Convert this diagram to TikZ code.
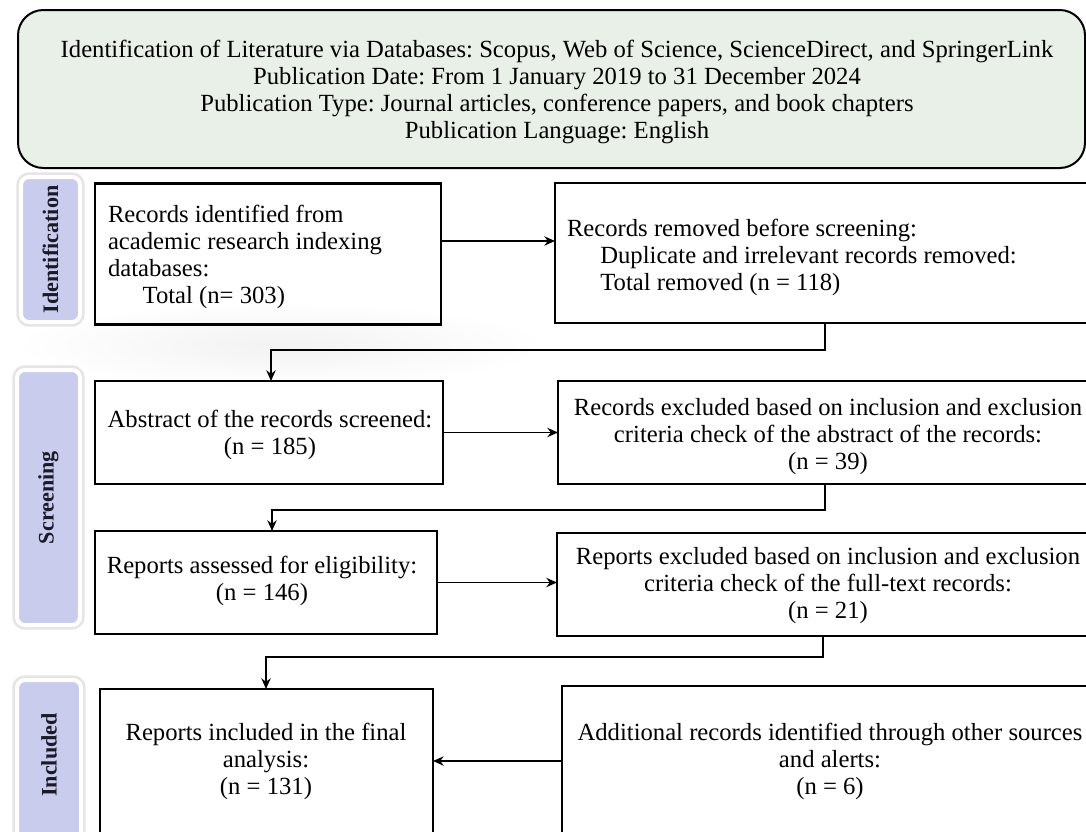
\documentclass[tikz,border=0pt]{standalone}
\usepackage{fontspec}
\setmainfont{Liberation Serif}
\usetikzlibrary{arrows.meta}
\definecolor{titlefill}{HTML}{E9F0E7}
\definecolor{lav}{HTML}{C9CCEC}
\definecolor{labtext}{HTML}{1A1A2A}
\frenchspacing
\begin{document}
\begin{tikzpicture}[x=0.75pt,y=-0.75pt,
  frame/.style={draw=black, line width=1.6pt, inner sep=0pt, outer sep=0pt},
  txt/.style={font=\fontsize{18.5}{20.25}\selectfont, inner sep=0pt, outer sep=0pt},
  labbox/.style={fill=lav, draw=white, line width=3pt, rounded corners=6pt,
    preaction={draw=black!10, line width=7pt, rounded corners=6pt},
    inner sep=0pt, outer sep=0pt},
  labtxt/.style={font=\fontsize{16.6}{18}\selectfont\bfseries, text=labtext, rotate=90, inner sep=0pt},
  conn/.style={draw=black, line width=1.1pt},
  arr/.style={conn, -{Stealth[length=8pt,width=7pt]}}]
\useasboundingbox (0,0) rectangle (1086,832);
\clip (0,0) rectangle (1086,832);
\fill[white] (0,0) rectangle (1086,832);

% faint smudge
\shade[inner color=black!5, outer color=white] (280,345) ellipse [x radius=200pt, y radius=32pt];

% title
\node[draw=black, line width=1.5pt, fill=titlefill, rounded corners=19pt,
  minimum width=1067*0.75pt, minimum height=158*0.75pt, inner sep=0pt] (T) at (551.5,89) {};
\node[txt, anchor=north, align=center] (Tt) at (557,38.1)
 {\strut Identification of Literature via Databases: Scopus, Web of Science, ScienceDirect, and SpringerLink\\
  Publication Date: From 1 January 2019 to 31 December 2024\\
  Publication Type: Journal articles, conference papers, and book chapters\\
  Publication Language: English};

% side labels
\node[labbox, minimum width=59*0.75pt, minimum height=145*0.75pt] (L1) at (50.5,249.5) {};
\node[labtxt] (L1t) at (L1.center) {Identification};
\node[labbox, minimum width=63*0.75pt, minimum height=255*0.75pt] (L2) at (48.5,497.5) {};
\node[labtxt] (L2t) at (L2.center) {Screening};
\node[labbox, minimum width=64*0.75pt, minimum height=170*0.75pt] (L3) at (49,765) {};
\node[labtxt] (L3t) at (49,755) {Included};

% boxes
\node[frame, minimum width=346*0.75pt, minimum height=141*0.75pt] (B1) at (268,254) {};
\node[frame, minimum width=555*0.75pt, minimum height=140*0.75pt] (B2) at (832.5,253) {};
\node[frame, minimum width=348*0.75pt, minimum height=103*0.75pt] (B3) at (269,432.5) {};
\node[frame, minimum width=552*0.75pt, minimum height=103*0.75pt] (B4) at (834,432.5) {};
\node[frame, minimum width=342*0.75pt, minimum height=103*0.75pt] (B5) at (266,582.5) {};
\node[frame, minimum width=553*0.75pt, minimum height=103*0.75pt] (B6) at (833.5,584.5) {};
\node[frame, minimum width=333*0.75pt, minimum height=180*0.75pt] (B7) at (266.5,779) {};
\node[frame, minimum width=548*0.75pt, minimum height=180*0.75pt] (B8) at (836,776) {};

% texts
\node[txt, anchor=north west, align=left] (B1t) at (108,203.1)
 {\strut Records identified from\\academic research indexing\\databases:\\\hspace*{26pt}Total (n= 303)};
\node[txt, anchor=north west, align=left] (B2t) at (567,217.1)
 {\strut Records removed before screening:\\\hspace*{25pt}Duplicate and irrelevant records removed:\\\hspace*{25pt}Total removed (n = 118)};
\node[txt, anchor=north, align=center] (B3t) at (270,408.1)
 {\strut Abstract of the records screened:\\(n = 185)};
\node[txt, anchor=north, align=center] (B4t) at (828,396.1)
 {\strut Records excluded based on inclusion and exclusion\\criteria check of the abstract of the records:\\(n = 39)};
\node[txt, anchor=north, align=center] (B5t) at (262,554.1)
 {\strut Reports assessed for eligibility:\\(n = 146)};
\node[txt, anchor=north, align=center] (B6t) at (828,545.1)
 {\strut Reports excluded based on inclusion and exclusion\\criteria check of the full-text records:\\(n = 21)};
\node[txt, anchor=north, align=center] (B7t) at (266,721.1)
 {\strut Reports included in the final\\analysis:\\(n = 131)};
\node[txt, anchor=north, align=center] (B8t) at (830,721.1)
 {\strut Additional records identified through other sources\\and alerts:\\(n = 6)};

% connector helpers
\coordinate (a1) at (0,241);
\coordinate (a4) at (0,761);
\coordinate (v1) at (825,0);
\coordinate (h1) at (271,350);
\coordinate (v2) at (825,0);
\coordinate (h2) at (272,510);
\coordinate (v3) at (823,0);
\coordinate (h3) at (266,657);

% connectors
\draw[arr] (B1.east |- a1) -- (B2.west |- a1);
\draw[arr] (B2.south -| v1) |- (h1) -- (B3.north -| h1);
\draw[arr] (B3.east) -- (B4.west |- B3.east);
\draw[arr] (B4.south -| v2) |- (h2) -- (B5.north -| h2);
\draw[arr] (B5.east) -- (B6.west |- B5.east);
\draw[arr] (B6.south -| v3) |- (h3) -- (B7.north -| h3);
\draw[arr] (B8.west |- a4) -- (B7.east |- a4);
\end{tikzpicture}
\end{document}
